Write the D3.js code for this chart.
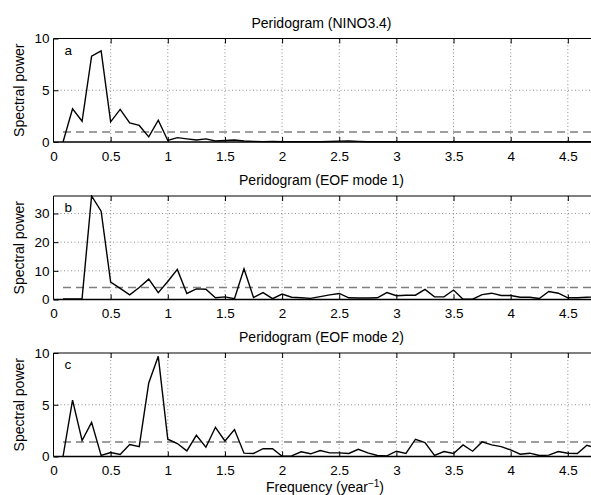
<!DOCTYPE html>
<html>
<head>
<meta charset="utf-8">
<script src="https://cdn.jsdelivr.net/npm/d3@7"></script>
<style>
  body { margin: 0; background: #fff; }
  svg { display: block; font-family: "Liberation Sans", Arial, sans-serif; }
</style>
</head>
<body>
<div id="chart"></div>
<script>
// frequencies are k/12 year^-1, k = 1..57
var freqs = d3.range(1, 58).map(function(k) { return k / 12; });

var ninoPower = [0, 3.2, 2.0, 8.3, 8.8, 1.95, 3.15, 1.85, 1.6, 0.5,
  2.1, 0.15, 0.42, 0.3, 0.2, 0.3, 0.1, 0.15, 0.2, 0.1,
  0.06, 0.04, 0.05, 0.03, 0.02, 0.03, 0.02, 0.03, 0.05, 0.08,
  0.1, 0.06, 0.03, 0.02, 0.02, 0.03, 0.02, 0.02, 0.03, 0.02,
  0.02, 0.02, 0.03, 0.02, 0.02, 0.02, 0.03, 0.02, 0.02, 0.02,
  0.02, 0.03, 0.02, 0.02, 0.02, 0.02, 0.02];

var eof1Power = [0.2, 0.2, 0.3, 36.1, 30.8, 6.1, 3.9, 1.6, 4.2, 7.1,
  2.4, 6.3, 10.5, 2.1, 3.7, 3.6, 0.6, 0.9, 0.3, 10.7,
  0.7, 2.4, 0.3, 1.9, 0.8, 0.6, 0.4, 1.0, 1.6, 2.1,
  0.6, 0.5, 0.5, 0.6, 2.4, 1.3, 1.5, 1.5, 3.5, 0.9,
  0.9, 3.3, 0.1, 0.1, 1.7, 2.2, 1.4, 1.4, 0.8, 0.8,
  0.35, 2.8, 2.2, 0.6, 0.6, 0.8, 0.9];

var eof2Power = [0, 5.45, 1.55, 3.3, 0.1, 0.38, 0.2, 1.15, 0.96, 7.1,
  9.68, 1.67, 1.25, 0.54, 2.05, 0.9, 2.82, 1.5, 2.6, 0.32,
  0.29, 0.75, 0.75, 0.03, 0.06, 0.45, 0.26, 0.57, 0.35, 0.35,
  0.29, 0.7, 0.35, 0.1, 0.06, 0.51, 0.29, 1.67, 1.35, 0.1,
  0.48, 0.29, 1.12, 0.51, 1.41, 1.12, 0.96, 0.64, 0.22, 0.32,
  0.1, 0.13, 0.48, 0.32, 0.29, 1.09, 0.8];

var titles = ['Peridogram (NINO3.4)', 'Peridogram (EOF mode 1)', 'Peridogram (EOF mode 2)'];
var letters = ['a', 'b', 'c'];
var thresholds = [0.97, 4.2, 1.4];
var yMaxes = [10, 36.1, 10];
var yTicks = [[0, 5, 10], [0, 10, 20, 30], [0, 5, 10]];
var xTicks = [0, 0.5, 1, 1.5, 2, 2.5, 3, 3.5, 4, 4.5];
var series = [ninoPower, eof1Power, eof2Power];

var W = 591, H = 495;
var left = 53.5, plotW = 550;   // right edge runs past the picture
var tops = [38.5, 196, 353], plotH = 103.5;

var svg = d3.select('#chart').append('svg')
  .attr('width', W)
  .attr('height', H);

var x = d3.scaleLinear().domain([0, 4.812]).range([left, left + plotW]);

series.forEach(function(vals, p) {
  var top = tops[p];
  var y = d3.scaleLinear().domain([0, yMaxes[p]]).range([top + plotH, top]);
  var g = svg.append('g');

  g.append('clipPath').attr('id', 'clip' + p)
    .append('rect')
    .attr('x', left).attr('y', top - 1)
    .attr('width', plotW).attr('height', plotH + 2);

  // dotted grid
  g.selectAll('.vgrid').data(xTicks.slice(1)).enter().append('line')
    .attr('x1', function(d) { return x(d); })
    .attr('x2', function(d) { return x(d); })
    .attr('y1', top).attr('y2', top + plotH)
    .attr('stroke', '#444').attr('stroke-width', 0.6)
    .attr('stroke-dasharray', '1,2.5');
  g.selectAll('.hgrid').data(yTicks[p].slice(1).filter(function(d) { return y(d) > top + 1; })).enter().append('line')
    .attr('x1', left).attr('x2', left + plotW)
    .attr('y1', function(d) { return y(d); })
    .attr('y2', function(d) { return y(d); })
    .attr('stroke', '#444').attr('stroke-width', 0.6)
    .attr('stroke-dasharray', '1,2.5');

  // significance level
  g.append('line')
    .attr('clip-path', 'url(#clip' + p + ')')
    .attr('x1', x(freqs[0])).attr('x2', left + plotW)
    .attr('y1', y(thresholds[p])).attr('y2', y(thresholds[p]))
    .attr('stroke', '#7f7f7f').attr('stroke-width', 1.6)
    .attr('stroke-dasharray', '8,5');

  var line = d3.line()
    .x(function(d, i) { return x(freqs[i]); })
    .y(function(d) { return y(d); });

  g.append('path')
    .datum(vals)
    .attr('clip-path', 'url(#clip' + p + ')')
    .attr('d', line)
    .attr('fill', 'none')
    .attr('stroke', '#000')
    .attr('stroke-width', 1.4)
    .attr('stroke-linejoin', 'miter');

  // box
  g.append('line').attr('x1', left).attr('x2', left + plotW)
    .attr('y1', top).attr('y2', top).attr('stroke', '#000');
  g.append('line').attr('x1', left).attr('x2', left + plotW)
    .attr('y1', top + plotH).attr('y2', top + plotH).attr('stroke', '#000').attr('stroke-width', 1.4);
  g.append('line').attr('x1', left).attr('x2', left)
    .attr('y1', top).attr('y2', top + plotH).attr('stroke', '#000');

  // axes with inward ticks
  var xAxis = d3.axisBottom(x).tickValues(xTicks).tickSize(-5).tickPadding(9)
    .tickFormat(function(d) { return d; });
  var gx = g.append('g').attr('transform', 'translate(0,' + (top + plotH) + ')').call(xAxis);
  gx.select('.domain').remove();
  gx.selectAll('.tick line').filter(function(d) { return d === 0; }).remove();

  var xTop = d3.axisTop(x).tickValues(xTicks.slice(1)).tickSize(-5).tickFormat('');
  var gxt = g.append('g').attr('transform', 'translate(0,' + top + ')').call(xTop);
  gxt.select('.domain').remove();

  var yAxis = d3.axisLeft(y).tickValues(yTicks[p]).tickSize(-5).tickPadding(4);
  var gy = g.append('g').attr('transform', 'translate(' + left + ',0)').call(yAxis);
  gy.select('.domain').remove();

  [gx, gy].forEach(function(a) {
    a.selectAll('text').attr('font-size', '13.5px').attr('fill', '#000')
      .attr('font-family', '"Liberation Sans", Arial, sans-serif');
  });
  g.selectAll('.tick line').attr('stroke', '#000');

  g.append('text')
    .attr('x', left + 268).attr('y', top - 11)
    .attr('text-anchor', 'middle')
    .attr('font-size', '14px')
    .text(titles[p]);

  g.append('text')
    .attr('x', left + 11).attr('y', top + 16)
    .attr('font-size', '13.5px')
    .text(letters[p]);

  g.append('text')
    .attr('transform', 'translate(24,' + (top + plotH / 2) + ') rotate(-90)')
    .attr('text-anchor', 'middle')
    .attr('font-size', '14px')
    .text('Spectral power');
});

var xl = svg.append('text')
  .attr('x', 325).attr('y', 492)
  .attr('text-anchor', 'middle')
  .attr('font-size', '14px');
xl.append('tspan').text('Frequency (year');
xl.append('tspan').attr('dy', -5).attr('font-size', '10px').text('\u22121');
xl.append('tspan').attr('dy', 5).text(')');
</script>
</body>
</html>
